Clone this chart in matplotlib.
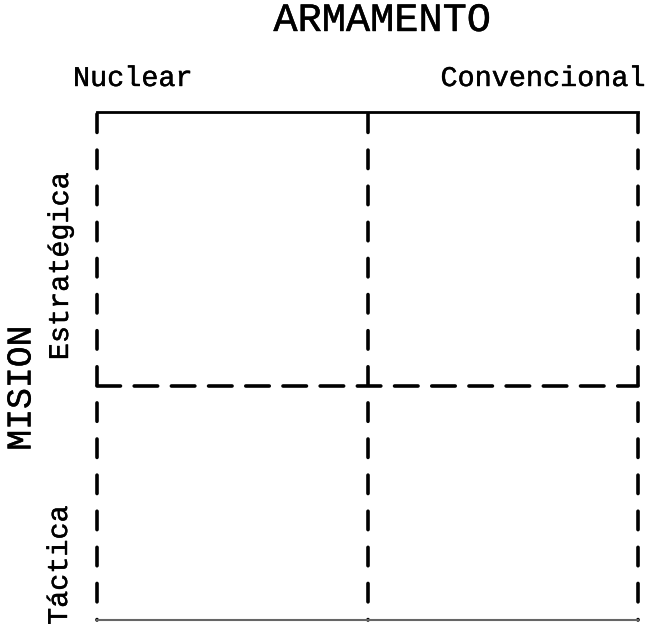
import matplotlib
matplotlib.use("Agg")
import matplotlib.pyplot as plt
import matplotlib.patheffects as pe

title = "ARMAMENTO"
armamento = ["Nuclear", "Convencional"]
mision_title = "MISION"
mision = ["Estratégica", "Táctica"]
x_bounds = [0, 1, 2.0]
y_divider = 1
ylim_top = 2.17

fig = plt.figure(figsize=(6.47, 6.24), dpi=100)
left, right, top, bottom = 97, 638, 112, 620
ax = fig.add_axes([left/647, 1 - bottom/624, (right-left)/647, (bottom-top)/624])
ax.set_xlim(0, x_bounds[-1])
ax.set_ylim(0, ylim_top)
ax.axis("off")

lw = 2.6
vdash = (0, (5.1, 4.9))
hdash = (0, (6.5, 3.8))
for xv in x_bounds:
    ax.plot([xv, xv], [ylim_top - 0.01, 0], color="black", lw=lw, linestyle=vdash,
            dash_capstyle="round", clip_on=False)
ax.plot([0, x_bounds[-1]], [y_divider, y_divider], color="black", lw=lw,
        linestyle=hdash, dash_capstyle="round", clip_on=False)
ax.plot([0, x_bounds[-1]], [ylim_top, ylim_top], color="black", lw=2.0, clip_on=False)
ax.plot([0, x_bounds[-1]], [0, 0], color="#666666", lw=1.5, clip_on=False)

font = "Liberation Mono"
fx = [pe.withStroke(linewidth=0.3, foreground="black")]
fig.text(382/647, 1 - 20/624, title, ha="center", va="center", fontsize=29,
         family=font, path_effects=fx)
fig.text(73/647, 1 - 79/624, armamento[0], ha="left", va="center", fontsize=20.5,
         family=font, path_effects=fx)
fig.text(646/647, 1 - 79/624, armamento[1], ha="right", va="center", fontsize=20.5,
         family=font, path_effects=fx)
fig.text(61/647, 1 - 266/624, mision[0], ha="center", va="center", fontsize=20.5,
         family=font, rotation=90, path_effects=fx)
fig.text(60/647, 1 - 565/624, mision[1], ha="center", va="center", fontsize=20.5,
         family=font, rotation=90, path_effects=fx)
fig.text(21/647, 1 - 388/624, mision_title, ha="center", va="center", fontsize=25,
         family=font, rotation=90, path_effects=fx)

fig.savefig("out.png", dpi=100, facecolor="white")
